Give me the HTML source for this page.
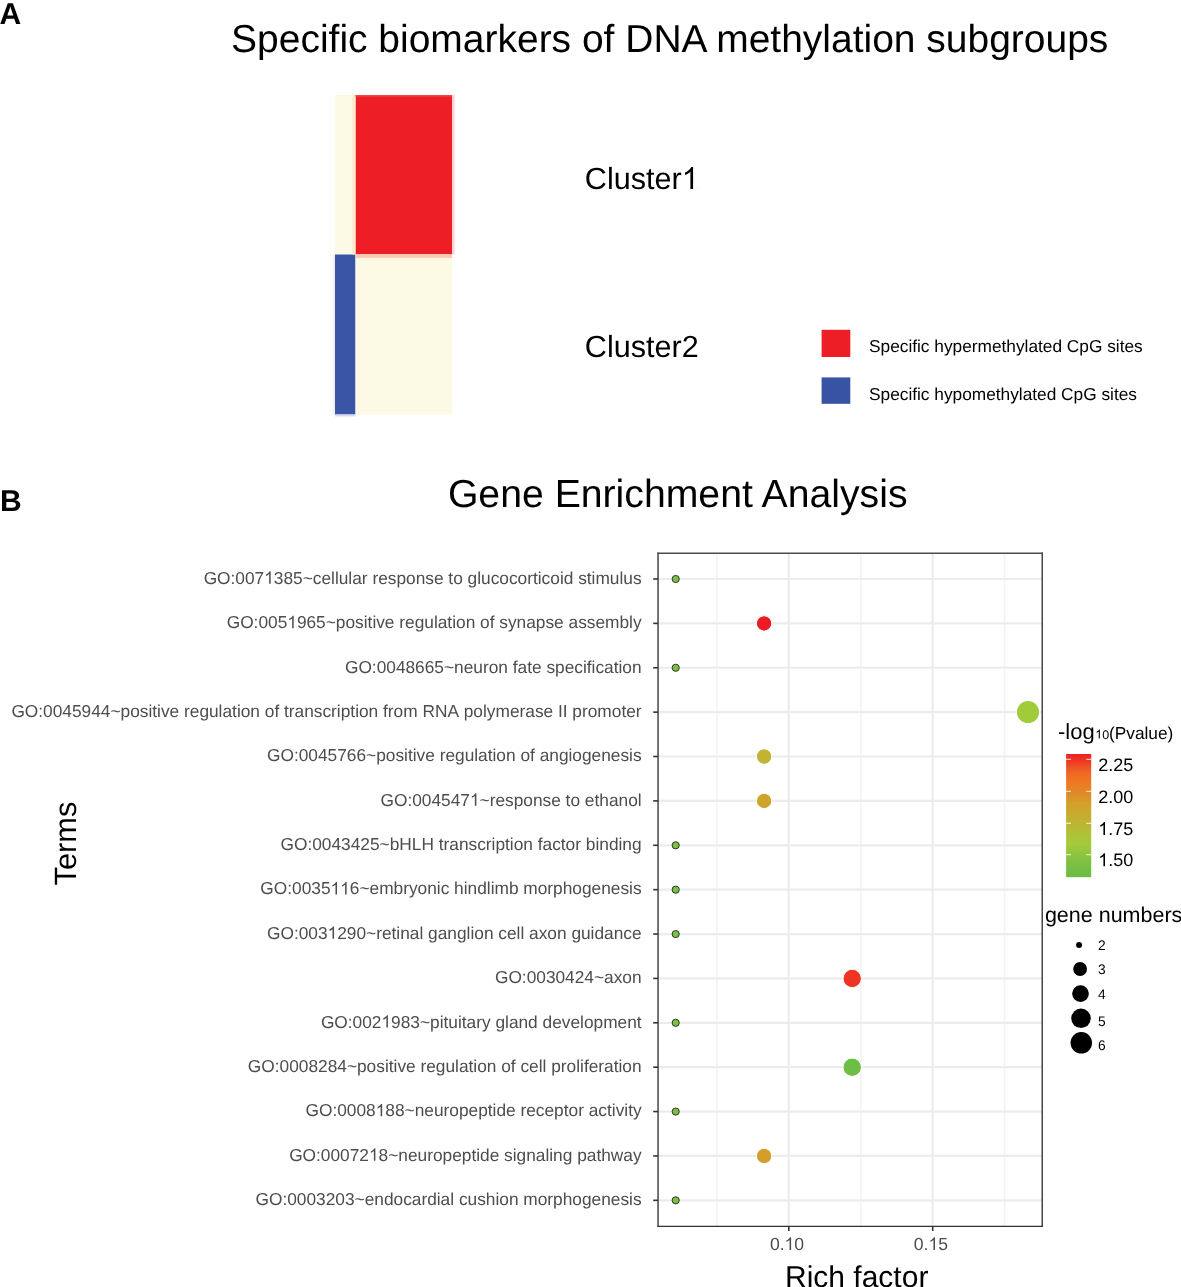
<!DOCTYPE html><html><head><meta charset="utf-8"><style>
html,body{margin:0;padding:0;background:#fff;width:1181px;height:1287px;overflow:hidden}
svg{position:absolute;left:0;top:0;display:block;will-change:transform}
text{font-family:"Liberation Sans", sans-serif;text-rendering:geometricPrecision}
</style></head><body>
<svg width="1181" height="1287" viewBox="0 0 1181 1287">
<defs><linearGradient id="cb" x1="0" y1="0" x2="0" y2="1">
<stop offset="0.000" stop-color="#ED1F24"/>
<stop offset="0.050" stop-color="#EE3424"/>
<stop offset="0.110" stop-color="#EF5424"/>
<stop offset="0.160" stop-color="#EE6B24"/>
<stop offset="0.240" stop-color="#EE7A24"/>
<stop offset="0.320" stop-color="#DF8A28"/>
<stop offset="0.400" stop-color="#D3A02A"/>
<stop offset="0.490" stop-color="#C8AB2E"/>
<stop offset="0.570" stop-color="#BCB632"/>
<stop offset="0.660" stop-color="#AEC438"/>
<stop offset="0.740" stop-color="#A2CB3B"/>
<stop offset="0.820" stop-color="#8DC340"/>
<stop offset="0.900" stop-color="#7ABF44"/>
<stop offset="1.000" stop-color="#6BBC45"/>
</linearGradient></defs>
<text x="-0.4" y="24" font-size="30" font-weight="bold" fill="#000">A</text>
<text x="231.1" y="52.3" font-size="38.97" fill="#000">Specific biomarkers of DNA methylation subgroups</text>
<rect x="335" y="95" width="20.5" height="159.5" fill="#FCFAE4"/>
<rect x="355.5" y="95" width="96.5" height="159.5" fill="#ED1E26"/>
<rect x="335" y="254.5" width="20.5" height="160" fill="#3A55A6"/>
<rect x="355.5" y="254.5" width="96.5" height="160" fill="#FCFAE4"/>
<rect x="352.2" y="95" width="3.3" height="159.5" fill="#FDEBD0"/>
<rect x="355.5" y="254.5" width="96.5" height="3.4" fill="#FAC9B2"/>
<rect x="452" y="95" width="2.6" height="159.5" fill="#F9D3D6"/>
<rect x="332.6" y="254.5" width="2.4" height="160" fill="#F2F1F9"/>
<rect x="335" y="414.5" width="20.5" height="2" fill="#DCDAF1"/>
<rect x="355.5" y="95" width="96.5" height="1.6" fill="#EE4A4E"/>
<text x="584.8" y="189" font-size="30.6" fill="#000">Cluster1</text>
<text x="584.8" y="357" font-size="30.6" fill="#000">Cluster2</text>
<rect x="821.6" y="329.8" width="28.7" height="27.2" fill="#ED1E26"/>
<rect x="821.6" y="377.4" width="28.7" height="26.4" fill="#3853A4"/>
<text x="869" y="352.4" font-size="17.3" fill="#000">Specific hypermethylated CpG sites</text>
<text x="869" y="399.9" font-size="17.3" fill="#000">Specific hypomethylated CpG sites</text>
<text x="0" y="510.9" font-size="30" font-weight="bold" fill="#000">B</text>
<text x="447.9" y="507.3" font-size="39.2" fill="#000">Gene Enrichment Analysis</text>
<line x1="716.85" y1="553.2" x2="716.85" y2="1226.3" stroke="#F4F4F5" stroke-width="1.8"/>
<line x1="860.75" y1="553.2" x2="860.75" y2="1226.3" stroke="#F4F4F5" stroke-width="1.8"/>
<line x1="1004.65" y1="553.2" x2="1004.65" y2="1226.3" stroke="#F4F4F5" stroke-width="1.8"/>
<line x1="788.80" y1="553.2" x2="788.80" y2="1226.3" stroke="#EBECEE" stroke-width="2.2"/>
<line x1="932.70" y1="553.2" x2="932.70" y2="1226.3" stroke="#EBECEE" stroke-width="2.2"/>
<line x1="658.0" y1="579.00" x2="1042.0" y2="579.00" stroke="#EBECEE" stroke-width="2.2"/>
<line x1="658.0" y1="623.38" x2="1042.0" y2="623.38" stroke="#EBECEE" stroke-width="2.2"/>
<line x1="658.0" y1="667.76" x2="1042.0" y2="667.76" stroke="#EBECEE" stroke-width="2.2"/>
<line x1="658.0" y1="712.14" x2="1042.0" y2="712.14" stroke="#EBECEE" stroke-width="2.2"/>
<line x1="658.0" y1="756.52" x2="1042.0" y2="756.52" stroke="#EBECEE" stroke-width="2.2"/>
<line x1="658.0" y1="800.90" x2="1042.0" y2="800.90" stroke="#EBECEE" stroke-width="2.2"/>
<line x1="658.0" y1="845.28" x2="1042.0" y2="845.28" stroke="#EBECEE" stroke-width="2.2"/>
<line x1="658.0" y1="889.66" x2="1042.0" y2="889.66" stroke="#EBECEE" stroke-width="2.2"/>
<line x1="658.0" y1="934.04" x2="1042.0" y2="934.04" stroke="#EBECEE" stroke-width="2.2"/>
<line x1="658.0" y1="978.42" x2="1042.0" y2="978.42" stroke="#EBECEE" stroke-width="2.2"/>
<line x1="658.0" y1="1022.80" x2="1042.0" y2="1022.80" stroke="#EBECEE" stroke-width="2.2"/>
<line x1="658.0" y1="1067.18" x2="1042.0" y2="1067.18" stroke="#EBECEE" stroke-width="2.2"/>
<line x1="658.0" y1="1111.56" x2="1042.0" y2="1111.56" stroke="#EBECEE" stroke-width="2.2"/>
<line x1="658.0" y1="1155.94" x2="1042.0" y2="1155.94" stroke="#EBECEE" stroke-width="2.2"/>
<line x1="658.0" y1="1200.32" x2="1042.0" y2="1200.32" stroke="#EBECEE" stroke-width="2.2"/>
<circle cx="675.70" cy="579.00" r="3.60" fill="#7AC143" stroke="#1c1c1c" stroke-width="0.85"/>
<circle cx="764.10" cy="623.38" r="7.60" fill="#ED1C24" stroke="#fff" stroke-width="1.2" stroke-opacity="0.9"/>
<circle cx="764.10" cy="623.38" r="7.00" fill="#ED1C24"/>
<circle cx="675.70" cy="667.76" r="3.60" fill="#7AC143" stroke="#1c1c1c" stroke-width="0.85"/>
<circle cx="1028.00" cy="712.14" r="11.40" fill="#A0CB3A" stroke="#fff" stroke-width="1.2" stroke-opacity="0.9"/>
<circle cx="1028.00" cy="712.14" r="10.80" fill="#A0CB3A"/>
<circle cx="764.10" cy="756.52" r="7.60" fill="#C2B333" stroke="#fff" stroke-width="1.2" stroke-opacity="0.9"/>
<circle cx="764.10" cy="756.52" r="7.00" fill="#C2B333"/>
<circle cx="764.10" cy="800.90" r="7.60" fill="#CEA42C" stroke="#fff" stroke-width="1.2" stroke-opacity="0.9"/>
<circle cx="764.10" cy="800.90" r="7.00" fill="#CEA42C"/>
<circle cx="675.70" cy="845.28" r="3.60" fill="#7AC143" stroke="#1c1c1c" stroke-width="0.85"/>
<circle cx="675.70" cy="889.66" r="3.60" fill="#7AC143" stroke="#1c1c1c" stroke-width="0.85"/>
<circle cx="675.70" cy="934.04" r="3.60" fill="#7AC143" stroke="#1c1c1c" stroke-width="0.85"/>
<circle cx="852.20" cy="978.42" r="9.10" fill="#EE3524" stroke="#fff" stroke-width="1.2" stroke-opacity="0.9"/>
<circle cx="852.20" cy="978.42" r="8.50" fill="#EE3524"/>
<circle cx="675.70" cy="1022.80" r="3.60" fill="#7AC143" stroke="#1c1c1c" stroke-width="0.85"/>
<circle cx="852.20" cy="1067.18" r="9.10" fill="#6CBE45" stroke="#fff" stroke-width="1.2" stroke-opacity="0.9"/>
<circle cx="852.20" cy="1067.18" r="8.50" fill="#6CBE45"/>
<circle cx="675.70" cy="1111.56" r="3.60" fill="#7AC143" stroke="#1c1c1c" stroke-width="0.85"/>
<circle cx="764.10" cy="1155.94" r="7.60" fill="#D39E2A" stroke="#fff" stroke-width="1.2" stroke-opacity="0.9"/>
<circle cx="764.10" cy="1155.94" r="7.00" fill="#D39E2A"/>
<circle cx="675.70" cy="1200.32" r="3.60" fill="#7AC143" stroke="#1c1c1c" stroke-width="0.85"/>
<line x1="658.05" y1="552.4" x2="658.05" y2="1227" stroke="#474747" stroke-width="1.5"/>
<line x1="1042.25" y1="552.4" x2="1042.25" y2="1227" stroke="#474747" stroke-width="1.5"/>
<line x1="657.3" y1="553.2" x2="1043" y2="553.2" stroke="#4d4d4d" stroke-width="1.6"/>
<line x1="657.3" y1="1226.4" x2="1043" y2="1226.4" stroke="#333" stroke-width="1.25"/>
<line x1="653.2" y1="579.00" x2="658.0" y2="579.00" stroke="#333" stroke-width="1.6"/>
<text x="641.6" y="583.80" font-size="17.31" fill="#4D4D4D" text-anchor="end" style="font-kerning:none">GO:0071385~cellular response to glucocorticoid stimulus</text>
<line x1="653.2" y1="623.38" x2="658.0" y2="623.38" stroke="#333" stroke-width="1.6"/>
<text x="641.6" y="628.18" font-size="17.31" fill="#4D4D4D" text-anchor="end" style="font-kerning:none">GO:0051965~positive regulation of synapse assembly</text>
<line x1="653.2" y1="667.76" x2="658.0" y2="667.76" stroke="#333" stroke-width="1.6"/>
<text x="641.6" y="672.56" font-size="17.31" fill="#4D4D4D" text-anchor="end" style="font-kerning:none">GO:0048665~neuron fate specification</text>
<line x1="653.2" y1="712.14" x2="658.0" y2="712.14" stroke="#333" stroke-width="1.6"/>
<text x="641.6" y="716.94" font-size="17.31" fill="#4D4D4D" text-anchor="end" style="font-kerning:none">GO:0045944~positive regulation of transcription from RNA polymerase II promoter</text>
<line x1="653.2" y1="756.52" x2="658.0" y2="756.52" stroke="#333" stroke-width="1.6"/>
<text x="641.6" y="761.32" font-size="17.31" fill="#4D4D4D" text-anchor="end" style="font-kerning:none">GO:0045766~positive regulation of angiogenesis</text>
<line x1="653.2" y1="800.90" x2="658.0" y2="800.90" stroke="#333" stroke-width="1.6"/>
<text x="641.6" y="805.70" font-size="17.31" fill="#4D4D4D" text-anchor="end" style="font-kerning:none">GO:0045471~response to ethanol</text>
<line x1="653.2" y1="845.28" x2="658.0" y2="845.28" stroke="#333" stroke-width="1.6"/>
<text x="641.6" y="850.08" font-size="17.31" fill="#4D4D4D" text-anchor="end" style="font-kerning:none">GO:0043425~bHLH transcription factor binding</text>
<line x1="653.2" y1="889.66" x2="658.0" y2="889.66" stroke="#333" stroke-width="1.6"/>
<text x="641.6" y="894.46" font-size="17.31" fill="#4D4D4D" text-anchor="end" style="font-kerning:none">GO:0035116~embryonic hindlimb morphogenesis</text>
<line x1="653.2" y1="934.04" x2="658.0" y2="934.04" stroke="#333" stroke-width="1.6"/>
<text x="641.6" y="938.84" font-size="17.31" fill="#4D4D4D" text-anchor="end" style="font-kerning:none">GO:0031290~retinal ganglion cell axon guidance</text>
<line x1="653.2" y1="978.42" x2="658.0" y2="978.42" stroke="#333" stroke-width="1.6"/>
<text x="641.6" y="983.22" font-size="17.31" fill="#4D4D4D" text-anchor="end" style="font-kerning:none">GO:0030424~axon</text>
<line x1="653.2" y1="1022.80" x2="658.0" y2="1022.80" stroke="#333" stroke-width="1.6"/>
<text x="641.6" y="1027.60" font-size="17.31" fill="#4D4D4D" text-anchor="end" style="font-kerning:none">GO:0021983~pituitary gland development</text>
<line x1="653.2" y1="1067.18" x2="658.0" y2="1067.18" stroke="#333" stroke-width="1.6"/>
<text x="641.6" y="1071.98" font-size="17.31" fill="#4D4D4D" text-anchor="end" style="font-kerning:none">GO:0008284~positive regulation of cell proliferation</text>
<line x1="653.2" y1="1111.56" x2="658.0" y2="1111.56" stroke="#333" stroke-width="1.6"/>
<text x="641.6" y="1116.36" font-size="17.31" fill="#4D4D4D" text-anchor="end" style="font-kerning:none">GO:0008188~neuropeptide receptor activity</text>
<line x1="653.2" y1="1155.94" x2="658.0" y2="1155.94" stroke="#333" stroke-width="1.6"/>
<text x="641.6" y="1160.74" font-size="17.31" fill="#4D4D4D" text-anchor="end" style="font-kerning:none">GO:0007218~neuropeptide signaling pathway</text>
<line x1="653.2" y1="1200.32" x2="658.0" y2="1200.32" stroke="#333" stroke-width="1.6"/>
<text x="641.6" y="1205.12" font-size="17.31" fill="#4D4D4D" text-anchor="end" style="font-kerning:none">GO:0003203~endocardial cushion morphogenesis</text>
<line x1="788.80" y1="1226.3" x2="788.80" y2="1231" stroke="#333" stroke-width="1.6"/>
<text x="787.00" y="1249.9" font-size="17.6" fill="#4D4D4D" text-anchor="middle">0.10</text>
<line x1="932.70" y1="1226.3" x2="932.70" y2="1231" stroke="#333" stroke-width="1.6"/>
<text x="930.90" y="1249.9" font-size="17.6" fill="#4D4D4D" text-anchor="middle">0.15</text>
<text x="785" y="1286.7" font-size="30" fill="#000">Rich factor</text>
<text transform="translate(75.9,885.5) rotate(-90)" x="0" y="0" font-size="30.8" fill="#000">Terms</text>
<text x="1058" y="738.5" font-size="22" fill="#000">-log</text>
<text x="1095.2" y="738.5" font-size="12.5" fill="#000">10</text>
<text x="1109" y="738.5" font-size="17.3" fill="#000">(Pvalue)</text>
<rect x="1066.1" y="754" width="25.1" height="123.2" fill="url(#cb)"/>
<line x1="1066.1" y1="759.3" x2="1071" y2="759.3" stroke="#fff" stroke-opacity="0.85" stroke-width="1"/>
<line x1="1086.2" y1="759.3" x2="1091.2" y2="759.3" stroke="#fff" stroke-opacity="0.85" stroke-width="1"/>
<line x1="1066.1" y1="791.3" x2="1071" y2="791.3" stroke="#fff" stroke-opacity="0.85" stroke-width="1"/>
<line x1="1086.2" y1="791.3" x2="1091.2" y2="791.3" stroke="#fff" stroke-opacity="0.85" stroke-width="1"/>
<line x1="1066.1" y1="823.3" x2="1071" y2="823.3" stroke="#fff" stroke-opacity="0.85" stroke-width="1"/>
<line x1="1086.2" y1="823.3" x2="1091.2" y2="823.3" stroke="#fff" stroke-opacity="0.85" stroke-width="1"/>
<line x1="1066.1" y1="854.7" x2="1071" y2="854.7" stroke="#fff" stroke-opacity="0.85" stroke-width="1"/>
<line x1="1086.2" y1="854.7" x2="1091.2" y2="854.7" stroke="#fff" stroke-opacity="0.85" stroke-width="1"/>
<text x="1098.3" y="771.0" font-size="18" fill="#000">2.25</text>
<text x="1098.3" y="803.0" font-size="18" fill="#000">2.00</text>
<text x="1098.3" y="835.0" font-size="18" fill="#000">1.75</text>
<text x="1098.3" y="866.3" font-size="18" fill="#000">1.50</text>
<text x="1044.9" y="922.2" font-size="21.5" fill="#000">gene numbers</text>
<circle cx="1079.06" cy="944.90" r="3.00" fill="#000"/>
<text x="1097.9" y="949.9" font-size="13.8" fill="#000">2</text>
<circle cx="1080.10" cy="969.00" r="6.90" fill="#000"/>
<text x="1097.9" y="974.1" font-size="13.8" fill="#000">3</text>
<circle cx="1080.50" cy="993.60" r="8.35" fill="#000"/>
<text x="1097.9" y="998.6" font-size="13.8" fill="#000">4</text>
<circle cx="1081.00" cy="1018.30" r="9.75" fill="#000"/>
<text x="1097.9" y="1025.7" font-size="13.8" fill="#000">5</text>
<circle cx="1081.30" cy="1042.85" r="10.75" fill="#000"/>
<text x="1097.9" y="1050.2" font-size="13.8" fill="#000">6</text>
<rect x="683.12" y="167.15" width="14.69" height="22.85" fill="#fff"/>
<rect x="264.63" y="571.09" width="8.96" height="13.71" fill="#fff"/>
<rect x="287.67" y="615.47" width="8.96" height="13.71" fill="#fff"/>
<rect x="470.35" y="792.99" width="8.96" height="13.71" fill="#fff"/>
<rect x="330.97" y="881.75" width="8.96" height="13.71" fill="#fff"/>
<rect x="340.58" y="881.75" width="8.96" height="13.71" fill="#fff"/>
<rect x="328.02" y="926.13" width="8.96" height="13.71" fill="#fff"/>
<rect x="381.88" y="1014.89" width="8.96" height="13.71" fill="#fff"/>
<rect x="376.13" y="1103.65" width="8.96" height="13.71" fill="#fff"/>
<rect x="369.36" y="1148.03" width="8.96" height="13.71" fill="#fff"/>
<rect x="784.99" y="1236.99" width="9.09" height="13.91" fill="#fff"/>
<rect x="928.89" y="1236.99" width="9.09" height="13.91" fill="#fff"/>
<rect x="1095.25" y="729.10" width="6.89" height="10.40" fill="#fff"/>
<rect x="1098.77" y="821.82" width="9.26" height="14.18" fill="#fff"/>
<rect x="1098.77" y="853.12" width="9.26" height="14.18" fill="#fff"/>
<path transform="translate(681.69,189.00) scale(0.01494,-0.01494)" d="M763 0H583V1147Q518 1085 412.5 1023T223 930V1104Q374 1175 487 1276T647 1472H763Z" fill="#000"/>
<path transform="translate(264.21,583.80) scale(0.00845,-0.00845)" d="M763 0H583V1147Q518 1085 412.5 1023T223 930V1104Q374 1175 487 1276T647 1472H763Z" fill="#4D4D4D"/>
<path transform="translate(287.26,628.18) scale(0.00845,-0.00845)" d="M763 0H583V1147Q518 1085 412.5 1023T223 930V1104Q374 1175 487 1276T647 1472H763Z" fill="#4D4D4D"/>
<path transform="translate(469.93,805.70) scale(0.00845,-0.00845)" d="M763 0H583V1147Q518 1085 412.5 1023T223 930V1104Q374 1175 487 1276T647 1472H763Z" fill="#4D4D4D"/>
<path transform="translate(330.55,894.46) scale(0.00845,-0.00845)" d="M763 0H583V1147Q518 1085 412.5 1023T223 930V1104Q374 1175 487 1276T647 1472H763Z" fill="#4D4D4D"/>
<path transform="translate(340.16,894.46) scale(0.00845,-0.00845)" d="M763 0H583V1147Q518 1085 412.5 1023T223 930V1104Q374 1175 487 1276T647 1472H763Z" fill="#4D4D4D"/>
<path transform="translate(327.60,938.84) scale(0.00845,-0.00845)" d="M763 0H583V1147Q518 1085 412.5 1023T223 930V1104Q374 1175 487 1276T647 1472H763Z" fill="#4D4D4D"/>
<path transform="translate(381.46,1027.60) scale(0.00845,-0.00845)" d="M763 0H583V1147Q518 1085 412.5 1023T223 930V1104Q374 1175 487 1276T647 1472H763Z" fill="#4D4D4D"/>
<path transform="translate(375.71,1116.36) scale(0.00845,-0.00845)" d="M763 0H583V1147Q518 1085 412.5 1023T223 930V1104Q374 1175 487 1276T647 1472H763Z" fill="#4D4D4D"/>
<path transform="translate(368.94,1160.74) scale(0.00845,-0.00845)" d="M763 0H583V1147Q518 1085 412.5 1023T223 930V1104Q374 1175 487 1276T647 1472H763Z" fill="#4D4D4D"/>
<path transform="translate(784.55,1249.90) scale(0.00859,-0.00859)" d="M763 0H583V1147Q518 1085 412.5 1023T223 930V1104Q374 1175 487 1276T647 1472H763Z" fill="#4D4D4D"/>
<path transform="translate(928.45,1249.90) scale(0.00859,-0.00859)" d="M763 0H583V1147Q518 1085 412.5 1023T223 930V1104Q374 1175 487 1276T647 1472H763Z" fill="#4D4D4D"/>
<path transform="translate(1095.20,738.50) scale(0.00610,-0.00610)" d="M763 0H583V1147Q518 1085 412.5 1023T223 930V1104Q374 1175 487 1276T647 1472H763Z" fill="#000"/>
<path transform="translate(1098.30,835.00) scale(0.00879,-0.00879)" d="M763 0H583V1147Q518 1085 412.5 1023T223 930V1104Q374 1175 487 1276T647 1472H763Z" fill="#000"/>
<path transform="translate(1098.30,866.30) scale(0.00879,-0.00879)" d="M763 0H583V1147Q518 1085 412.5 1023T223 930V1104Q374 1175 487 1276T647 1472H763Z" fill="#000"/>
</svg></body></html>
